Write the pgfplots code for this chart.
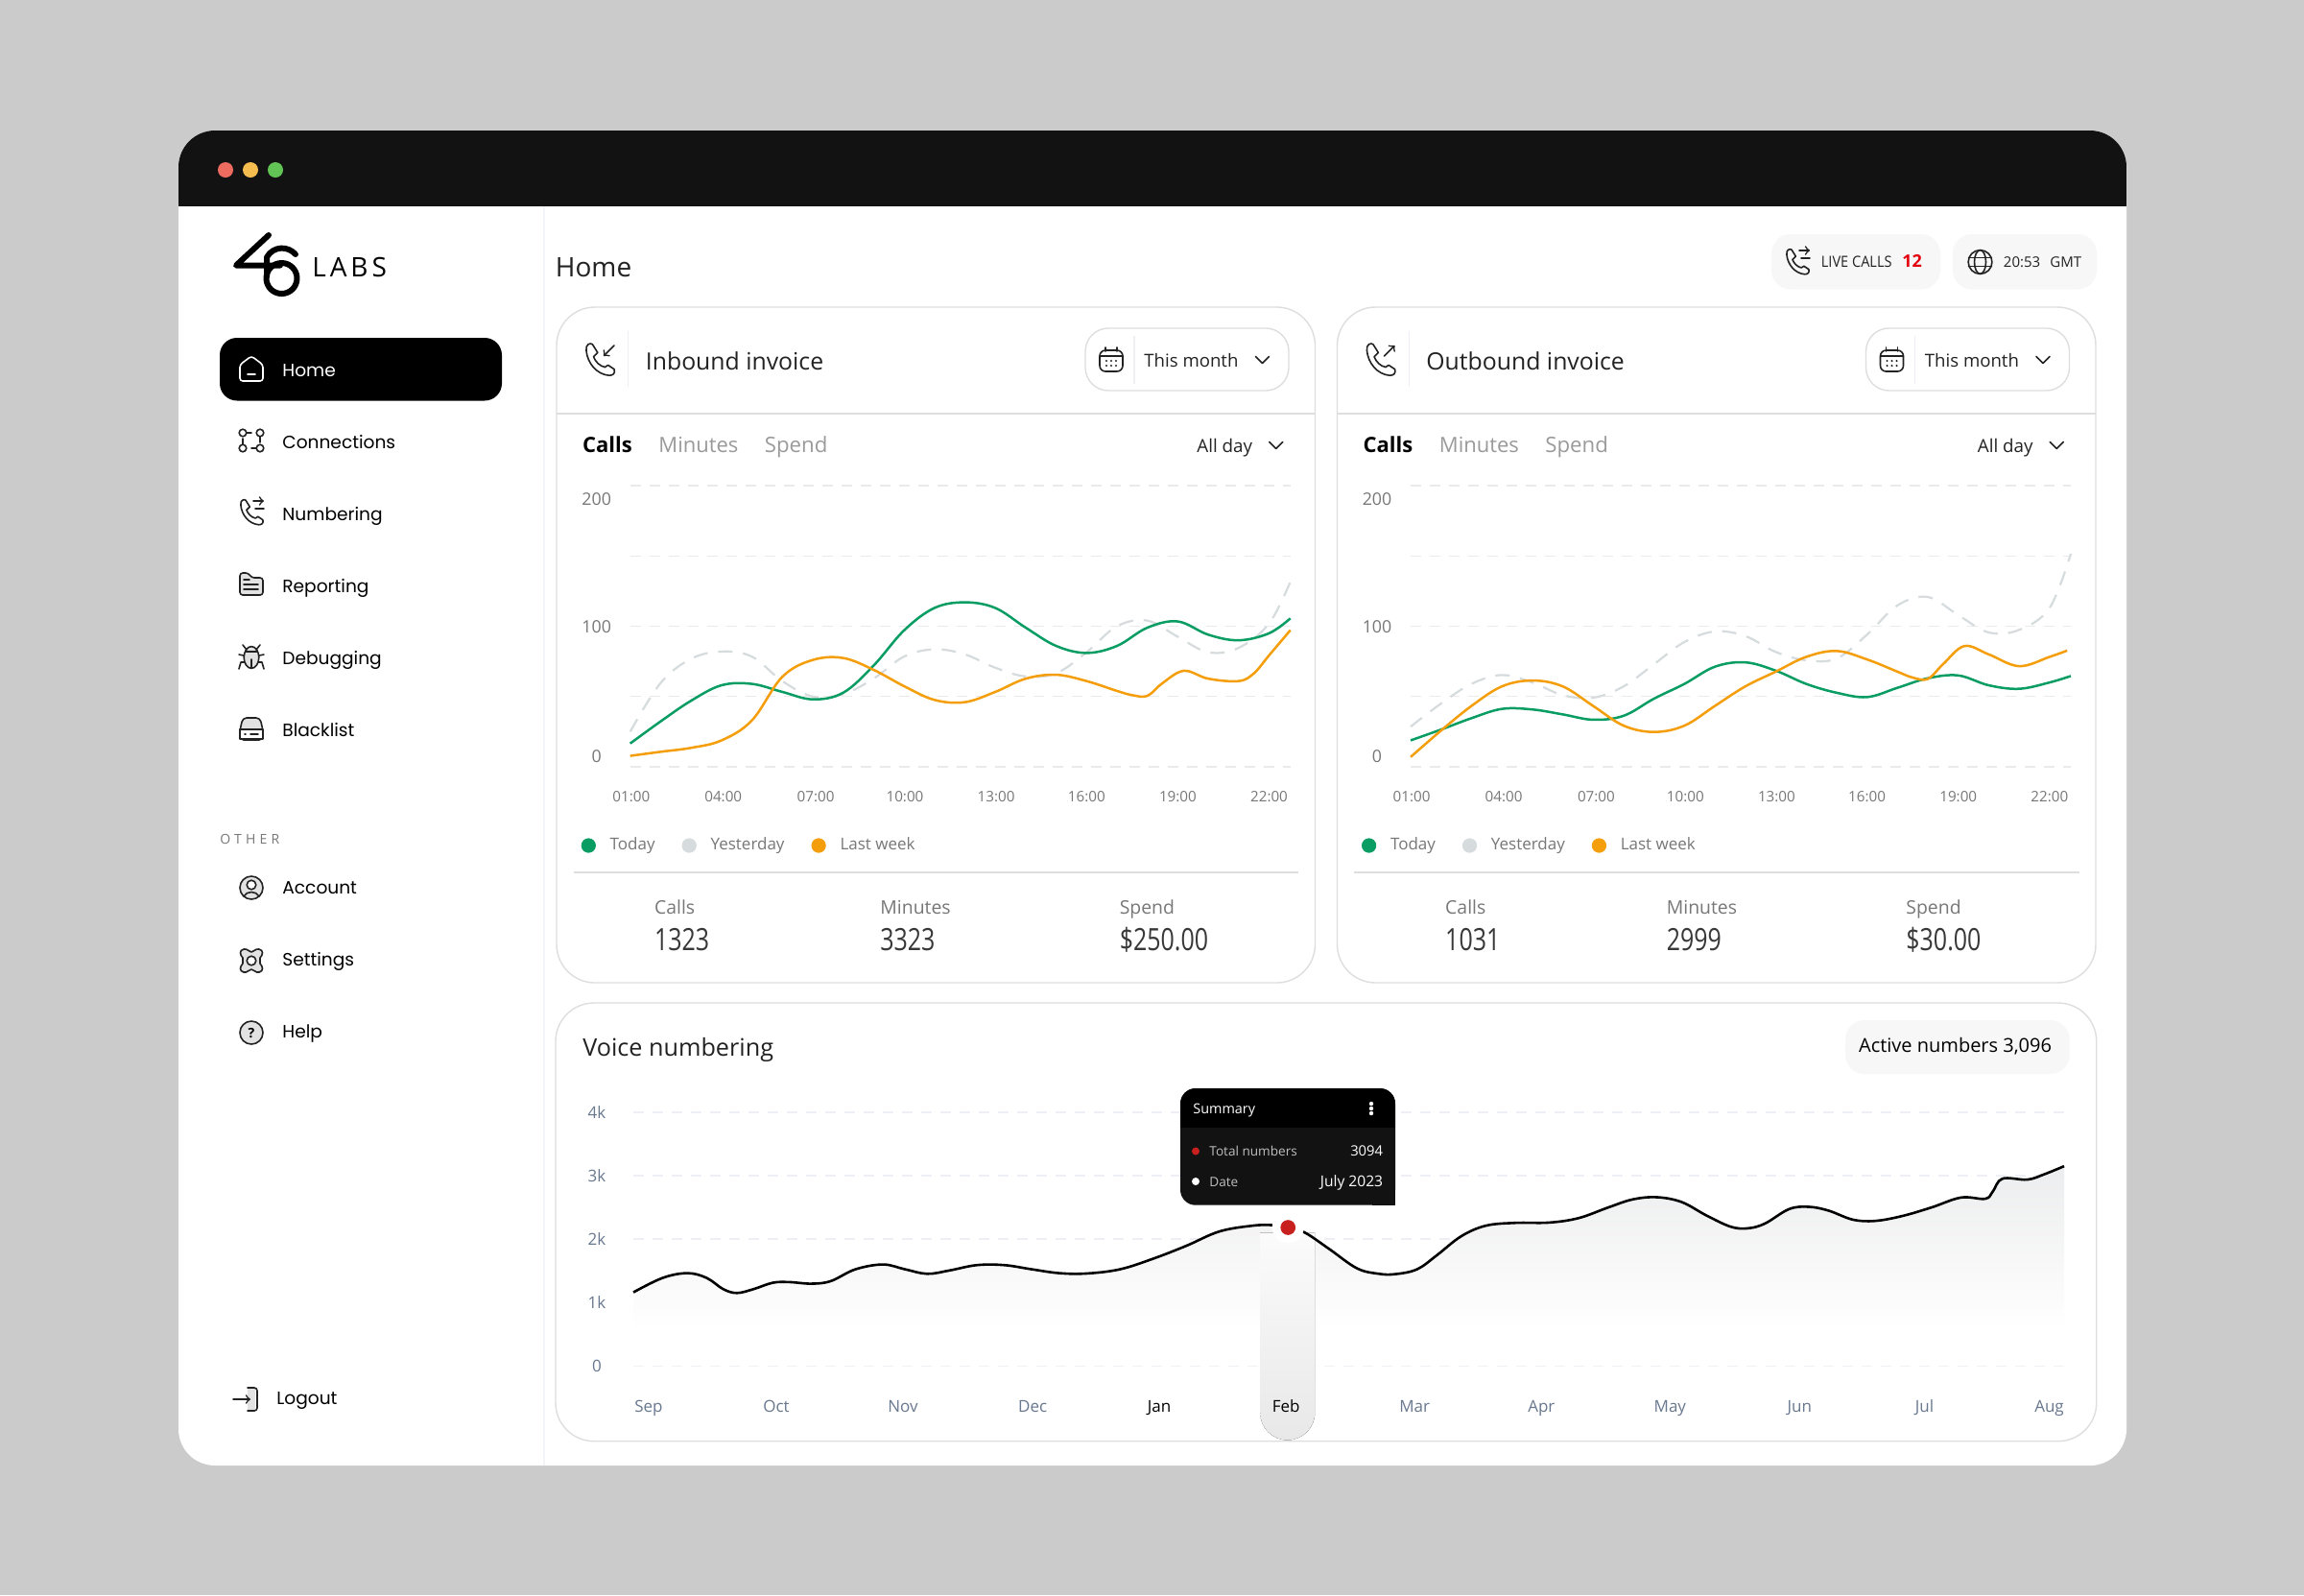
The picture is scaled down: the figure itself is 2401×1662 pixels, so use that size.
\documentclass[border=0pt]{standalone}
\usepackage{fontspec}
\usepackage{pgfplots}
\usepackage{pgfplotstable}
\pgfplotsset{compat=1.18}
\setmainfont{Open Sans}
\newfontfamily\navfont{Poppins}
\newfontfamily\labsfont[LetterSpace=14]{Open Sans}
\newfontfamily\otherfont[LetterSpace=30]{Open Sans}
\definecolor{bg}{HTML}{CBCBCB}
\definecolor{hdr}{HTML}{121212}
\definecolor{ink}{HTML}{222222}
\definecolor{mut}{HTML}{777777}
\definecolor{tab}{HTML}{9A9A9A}
\definecolor{bord}{HTML}{DEDEDE}
\definecolor{soft}{HTML}{F7F7F7}
\definecolor{gridc}{HTML}{EAEAEA}
\definecolor{gridv}{HTML}{EDEFF4}
\definecolor{cgreen}{HTML}{0A9D63}
\definecolor{cgrey}{HTML}{D6DBDD}
\definecolor{corange}{HTML}{F59E0B}
\definecolor{slate}{HTML}{68788F}
\definecolor{cred}{HTML}{C8201E}
\definecolor{ttbody}{HTML}{121212}
\definecolor{areatop}{HTML}{ECEDEE}
\definecolor{areamid}{HTML}{FAFAFA}
\definecolor{bandtop}{HTML}{FBFBFB}
\definecolor{bandbot}{HTML}{E8E8E9}
\definecolor{dred}{HTML}{EE6B60}
\definecolor{dyel}{HTML}{F5BD4F}
\definecolor{dgrn}{HTML}{61C454}
\definecolor{ifill}{HTML}{E2E2E2}
\definecolor{livered}{HTML}{E3000F}
\pgfdeclareverticalshading{areafade}{100bp}{color(0bp)=(white); color(34bp)=(white); color(45bp)=(areamid); color(75bp)=(areatop); color(100bp)=(areatop)}

\pgfplotstableread{
h v
1 16.6
2 32.3
3 47
4 58
5 59
6 53.3
7 48
8 52.7
9 72
10 97
11 113
12 117
13 113
14 99
15 86
16 81
17 86
18 99
19 103.4
20 94
21 90
22 95
22.7 105.6
}\inToday
\pgfplotstableread{
h v
1 25
2 59.6
3 76.8
4 82
5 78.4
6 61
7 50
8 51.7
9 62.7
10 78.4
11 83.6
12 80
13 70.5
14 64.3
15 66.5
16 81.5
17 100
18 104
19 92.5
20 81.5
21 84.6
22 102
22.7 131.7
}\inYest
\pgfplotstableread{
h v
1 7.8
2 10.7
3 13.5
4 18.8
5 33
6 64
7 76
8 77.4
9 69
10 57.4
11 47.6
12 46
13 53.3
14 62.7
15 65.5
16 61
17 54
17.5 51
18 50.5
18.5 59.6
19.2 68.3
20 62.7
21 61
21.5 66.5
22 79.3
22.7 97.2
}\inLast
\pgfplotstableread{
h v
1 18.8
2 26.5
3 34.6
4 41.2
5 40.8
6 37.3
7 33.5
8 36.3
9 48.5
10 59
11 71.2
12 74.3
13 68.4
14 59
15 52.7
16 49.6
17 56.2
18 63
19 65
20 58
21 55.5
22 60
22.7 64.6
}\outToday
\pgfplotstableread{
h v
1 28.6
2 45
3 59
4 65.3
5 60
6 51
7 49.2
8 57.2
9 73
10 88.8
11 96.3
12 93
13 81.7
14 75.8
15 77
16 94
17 114.8
18 120.8
19 107.9
20 95.6
21 97.4
22 113
22.7 151.5
}\outYest
\pgfplotstableread{
h v
1 7
2 25.8
3 43.3
4 57.2
5 61.4
6 57.2
7 43.3
8 29.3
9 24.8
10 29.3
11 43.3
12 57.2
13 67.7
14 78.2
15 82.4
16 76.4
17 67.7
17.5 63.5
18 62.5
18.5 73
19.2 85.9
20 80
21 71.6
22 78.2
22.58 82.7
}\outLast
\pgfplotstableread{
m v
-0.12 1158
0.11 1386
0.305 1461
0.456 1386
0.586 1209
0.694 1148
0.824 1209
0.976 1310
1.106 1320
1.278 1295
1.43 1335
1.625 1522
1.842 1598
2.014 1522
2.188 1451
2.36 1502
2.578 1588
2.794 1588
3.01 1522
3.227 1461
3.443 1456
3.703 1522
3.963 1689
4.222 1891
4.483 2119
4.742 2210
4.894 2220
5.023 2180
5.153 2104
5.348 1841
5.565 1537
5.737 1451
5.867 1446
6.037 1522
6.19 1740
6.383 2043
6.576 2210
6.807 2255
7.076 2260
7.307 2331
7.538 2498
7.73 2625
7.92 2660
8.115 2584
8.31 2372
8.5 2195
8.635 2169
8.77 2245
8.96 2473
9.115 2508
9.27 2448
9.46 2306
9.635 2286
9.846 2362
10.077 2498
10.31 2655
10.5 2635
10.56 2751
10.635 2953
10.83 2938
10.96 3019
11.12 3150
}\voice

\newcommand{\T}[6]{\node[anchor=#3,inner sep=0pt,text=#5,font=\fontsize{#4}{#4}\selectfont] at (#1,#2) {#6};}
\newcommand{\N}[4]{\node[anchor=mid west,inner sep=0pt,text=#4,font=\navfont\fontsize{9.3}{9.3}\selectfont] at (#1,#2) {#3};}
\newcommand{\ic}[3]{\begin{scope}[shift={(#1,#2)},line width=.8pt,draw=ink,line cap=round,line join=round]#3\end{scope}}
\newcommand{\handset}{%
  \draw (-13,-9) .. controls (-14,-15) and (-9,-17) .. (-7,-15) -- (-2,-7) -- (-6,-3)
    .. controls (-4,2) and (0,6) .. (5,7) -- (8,5) -- (14,9) .. controls (15,13) and (13,15) .. (9,15)
    .. controls (-3,14) and (-12,3) .. cycle;}
\newcommand{\chev}[2]{\draw[line width=.8pt,draw=ink,line cap=round,line join=round] (#1-7,#2-3.5) -- (#1,#2+3.5) -- (#1+7,#2-3.5);}
\newcommand{\calicon}[2]{\ic{#1}{#2}{%
  \draw[rounded corners=3pt] (-12,-10) rectangle (12,12);
  \draw (-12,-4) -- (12,-4); \draw (-6,-13) -- (-6,-9); \draw (6,-13) -- (6,-9);
  \foreach \a in {-5,0,5}{\foreach \b in {1,6}{\fill[ink] (\a,\b) circle (.6pt);}}}}

\pgfplotsset{
  cardaxis/.style={
    scale only axis, width=344pt, height=146.5pt,
    xmin=1, xmax=22.7, ymin=0, ymax=200,
    axis line style={draw=none}, major tick length=0pt, clip=false,
    xtick={1.035,4.06,7.1,10.03,13.03,16,19,22},
    xticklabels={01:00,04:00,07:00,10:00,13:00,16:00,19:00,22:00},
    xticklabel style={anchor=center,yshift=-15.3pt,font=\fontsize{7.6}{9}\selectfont,text=mut},
    ytick={0,50,100,150,200}, yticklabels={},
    ymajorgrids, grid style={draw=gridc,line width=.6pt,dash pattern=on 5.5pt off 4.5pt},
    extra y ticks={7.2,99.3,190.5},
    extra y tick labels={0,100,200},
    extra y tick style={grid=none,major tick length=0pt,
      yticklabel style={anchor=center,xshift=-17.5pt,font=\fontsize{8.9}{10}\selectfont,text=mut}},
    legend columns=-1,
    legend style={at={(rel axis cs:0,0)},anchor=west,xshift=-25.5pt,yshift=-41pt,draw=none,fill=none,
      inner sep=0pt,outer sep=0pt,font=\fontsize{8.5}{10}\selectfont,text=mut,
      cells={anchor=west},
      /tikz/every even column/.append style={column sep=12pt}},
    legend image code/.code={\fill[##1] (0pt,0pt) circle (3.6pt); \path (0pt,0pt) (9pt,0pt);},
  },
  sline/.style={smooth,tension=.6,line width=1.25pt,no markers,forget plot},
}

\newcommand{\cardui}[1]{% #1 = x offset
  \begin{scope}[shift={(#1,0)}]
  \draw[bord,line width=.7pt,rounded corners=20pt] (580,320) rectangle (1370.5,1024);
  \draw[bord,line width=.8pt] (580,431) -- (1370.5,431);
  \draw[gridv,line width=.6pt] (654.7,345) -- (654.7,403);
  \draw[bord,line width=.7pt,rounded corners=12pt] (1131,342) rectangle (1343,407);
  \calicon{1158}{375}
  \draw[gridv,line width=.6pt] (1182,350) -- (1182,400);
  \T{1192}{377}{mid west}{9.3}{ink}{This month}
  \chev{1315.4}{375}
  \T{606.7}{466}{mid west}{11}{black}{\textbf{Calls}}
  \T{686}{466}{mid west}{11}{tab}{Minutes}
  \T{796.5}{466}{mid west}{11.1}{tab}{Spend}
  \T{1247}{466.5}{mid west}{9.4}{ink}{All day}
  \chev{1329.7}{464}
  \draw[bord,line width=.7pt] (597.5,909) -- (1353,909);
  \end{scope}}
\newcommand{\stat}[3]{% x, label, value
  \T{#1}{947.5}{mid west}{9.7}{mut}{#2}
  \node[anchor=base west,inner sep=0pt,text=ink!90,font=\fontsize{16}{16}\selectfont] at (#1,990.5) {\scalebox{.78}[1]{#3}};}

\begin{document}
\begin{tikzpicture}[x=0.5pt,y=-0.5pt]
\fill[bg] (0,0) rectangle (2401,1662);
% window
\fill[white,rounded corners=19pt] (186,136) rectangle (2216,1527);
\begin{scope}
  \clip[rounded corners=19pt] (186,136) rectangle (2216,1527);
  \fill[hdr] (186,136) rectangle (2216,215);
\end{scope}
\fill[dred] (235,177) circle (4pt);
\fill[dyel] (261,177) circle (4pt);
\fill[dgrn] (287,177) circle (4pt);
\draw[gridv!70!white,line width=.6pt] (567,215) -- (567,1527);
% logo
\begin{scope}[line width=3pt,line cap=round,line join=round,draw=black]
  \draw (280,245) -- (246,276.5) -- (292,276.5);
  \draw (293.5,290) circle (8pt);
  \draw (308,265) .. controls (300,256) and (285,256) .. (278,268) -- (278,288);
\end{scope}
\node[anchor=mid west,inner sep=0pt,font=\labsfont\fontsize{14}{14}\selectfont] at (325,283) {LABS};
% sidebar
\fill[black,rounded corners=9pt] (229,352) rectangle (523,417.5);
\ic{262}{384}{\draw[white,rounded corners=1.5pt] (-12,-4) -- (0,-13) -- (12,-4) -- (12,13) -- (-12,13) -- cycle; \draw[white] (-4,6) -- (4,6);}
\N{294}{387}{Home}{white}
\ic{262}{459}{\draw (-9,-8) circle (1.9pt); \draw (9,-8) circle (1.9pt); \draw (-9,8) circle (1.9pt); \draw (9,8) circle (1.9pt);
  \draw (-5,-8) -- (0,-8); \draw (9,-4) -- (9,2); \draw (-9,4) -- (-9,-2); \draw (5,8) -- (0,8);}
\N{294}{462}{Connections}{black}
\ic{262}{534}{\begin{scope}[scale=.85]\handset\end{scope}\draw[->] (2,-12) -- (13,-12); \draw (4,-4) -- (13,-4);}
\N{294}{537}{Numbering}{black}
\ic{262}{609}{\draw[fill=ifill,rounded corners=1.5pt] (-12,-12) -- (-3,-12) -- (0,-7) -- (12,-7) -- (12,11) -- (-12,11) -- cycle;
  \draw (-8,-5) -- (-2,-5); \draw (-8,0) -- (7,0); \draw (-8,5) -- (7,5);}
\N{294}{612}{Reporting}{black}
\ic{262}{684}{\draw[fill=ifill] (0,1) ellipse (3.9pt and 5.7pt); \draw (-9,-12) -- (-5,-7); \draw (9,-12) -- (5,-7);
  \draw (-13,13) -- (-11,6) -- (-7,6); \draw (13,13) -- (11,6) -- (7,6); \draw (-13,-2) -- (-8,-1); \draw (13,-2) -- (8,-1); \draw (0,3) -- (0,12); \draw (-6,-5) -- (6,-5);}
\N{294}{687}{Debugging}{black}
\ic{262}{759}{\draw[fill=ifill,rounded corners=2pt] (-12,2) -- (-9,-11) -- (9,-11) -- (12,2) -- (12,12) -- (-12,12) -- cycle;
  \draw[fill=white] (-12,1) -- (12,1) -- (12,11) -- (-12,11) -- cycle; \draw (-7,6) -- (-6,6); \draw (-1,6) -- (7,6);}
\N{294}{762}{Blacklist}{black}
\node[anchor=mid west,inner sep=0pt,text=mut,font=\otherfont\fontsize{7}{7}\selectfont] at (229,874) {OTHER};
\ic{262}{925}{\draw[fill=ifill] (0,0) circle (6pt); \draw[fill=white] (0,-3) circle (2.4pt); \draw (-8,9) .. controls (-5,3) and (5,3) .. (8,9);}
\N{294}{926.5}{Account}{black}
\ic{262}{1001}{\draw[fill=ifill] (-8,-12) .. controls (-4,-13) and (-3,-9) .. (0,-9) .. controls (3,-9) and (4,-13) .. (8,-12)
  .. controls (13,-11) and (12,-6) .. (9,-3) .. controls (9,0) and (9,1) .. (9,3) .. controls (12,6) and (13,11) .. (8,12)
  .. controls (4,13) and (3,9) .. (0,9) .. controls (-3,9) and (-4,13) .. (-8,12)
  .. controls (-13,11) and (-12,6) .. (-9,3) .. controls (-9,1) and (-9,0) .. (-9,-3) .. controls (-12,-6) and (-13,-11) .. (-8,-12) -- cycle;
  \draw[fill=white] (0,0) circle (2.4pt);}
\N{294}{1001.5}{Settings}{black}
\ic{262}{1076}{\draw[fill=ifill] (0,0) circle (6pt); \node[inner sep=0pt,text=black,font=\bfseries\fontsize{7}{7}\selectfont] at (0,0) {?};}
\N{294}{1076}{Help}{black}
\ic{256}{1458}{\fill[ifill] (2,-12) rectangle (10,12); \draw[rounded corners=1.5pt] (2,-12) -- (12,-12) -- (12,12) -- (2,12); \draw[->] (-13,0) -- (5,0);}
\N{288}{1458}{Logout}{black}
% top
\T{578.5}{283}{mid west}{14}{ink}{Home}
\fill[soft,rounded corners=10pt] (1846,244) rectangle (2022,301.5);
\fill[soft,rounded corners=10pt] (2035,244) rectangle (2185,301.5);
\ic{1873}{273}{\begin{scope}[scale=.85]\handset\end{scope}\draw[->] (2,-12) -- (13,-12); \draw (4,-4) -- (13,-4);}
\node[anchor=mid west,inner sep=0pt,text=ink,font=\fontsize{8}{8}\selectfont] at (1897.5,273) {\scalebox{.91}[1]{LIVE CALLS}};
\T{1982}{273}{mid west}{9}{livered}{\textbf{12}}
\ic{2063.5}{273}{\draw (0,0) circle (6.2pt); \draw (0,0) ellipse (3pt and 6.2pt); \draw (-12,-4.5) -- (12,-4.5); \draw (-12,4.5) -- (12,4.5);}
\T{2087.5}{273}{mid west}{7.5}{ink}{20:53}
\T{2136}{273}{mid west}{7.5}{ink}{GMT}
% cards
\cardui{0}
\cardui{813.5}
\ic{625}{375}{\begin{scope}[scale=1.08]\handset\end{scope}\draw[->] (15,-15) -- (4,-4);}
\ic{1438.5}{375}{\begin{scope}[scale=1.08]\handset\end{scope}\draw[->] (4,-4) -- (15,-15);}
\T{672.5}{380}{mid west}{12.4}{ink}{Inbound invoice}
\T{1486}{380}{mid west}{12.4}{ink}{Outbound invoice}
\stat{681.7}{Calls}{1323}
\stat{917}{Minutes}{3323}
\stat{1166.4}{Spend}{\$250.00}
\stat{1505.8}{Calls}{1031}
\stat{1736.4}{Minutes}{2999}
\stat{1986}{Spend}{\$30.00}

% inbound
\begin{axis}[cardaxis,at={(328.35pt,-399.5pt)},anchor=south west]
\addlegendimage{color=cgreen}\addlegendentry{Today}
\addlegendimage{color=cgrey}\addlegendentry{Yesterday}
\addlegendimage{color=corange}\addlegendentry{Last week}
\addplot[sline,color=cgrey,line width=1.1pt,dash pattern=on 7.5pt off 5.5pt] table[x=h,y=v] {\inYest};
\addplot[sline,color=cgreen] table[x=h,y=v] {\inToday};
\addplot[sline,color=corange] table[x=h,y=v] {\inLast};
\end{axis}
% outbound
\begin{axis}[cardaxis,at={(735pt,-399.5pt)},anchor=south west]
\addlegendimage{color=cgreen}\addlegendentry{Today}
\addlegendimage{color=cgrey}\addlegendentry{Yesterday}
\addlegendimage{color=corange}\addlegendentry{Last week}
\addplot[sline,color=cgrey,line width=1.1pt,dash pattern=on 7.5pt off 5.5pt] table[x=h,y=v] {\outYest};
\addplot[sline,color=cgreen] table[x=h,y=v] {\outToday};
\addplot[sline,color=corange] table[x=h,y=v] {\outLast};
\end{axis}
% voice card
\draw[bord,line width=.7pt,rounded corners=20pt] (579,1045) rectangle (2184.7,1501.7);
\T{607}{1095}{mid west}{12.6}{ink}{Voice numbering}
\fill[soft,rounded corners=10pt] (1923,1063) rectangle (2156.6,1119);
\T{1936.7}{1091}{mid west}{10}{black}{Active numbers 3,096}
\begin{axis}[scale only axis,width=745.5pt,height=132pt,at={(330pt,-711.5pt)},anchor=south west,
  xmin=-0.12,xmax=11.12,ymin=0,ymax=4000,clip=false,
  axis line style={draw=none},major tick length=0pt,
  ytick={0,1000,2000,3000,4000},yticklabels={0,1k,2k,3k,4k},
  ymajorgrids,grid style={draw=gridv,line width=.6pt,dash pattern=on 5.5pt off 4.5pt},
  yticklabel style={anchor=center,xshift=-19pt,font=\fontsize{8.5}{10}\selectfont,text=slate},
  xtick={0,1.003,1.998,3.017,4.012,5.008,6.018,7.014,8.024,9.042,10.023,11.003},
  xticklabels={Sep,Oct,Nov,Dec,{\textcolor{black}{Jan}},{},Mar,Apr,May,Jun,Jul,Aug},
  xticklabel style={anchor=base,yshift=-24pt,font=\fontsize{8.5}{10}\selectfont,text=slate},
]
\addplot[draw=none,shade,shading=areafade,smooth,tension=.6,forget plot] table[x=m,y=v] {\voice} \closedcycle;
\fill[top color=bandtop,bottom color=bandbot] (axis cs:4.804,2100) -- (axis cs:5.234,2100) -- (axis cs:5.234,-742) arc[start angle=0,end angle=-180,radius=14.25pt] -- cycle;
\node[anchor=base,inner sep=0pt,text=black,font=\fontsize{8.5}{10}\selectfont] at (axis cs:5.008,-727) {Feb};
\addplot[smooth,tension=.6,line width=1.3pt,color=black,no markers,forget plot] table[x=m,y=v] {\voice};
\addplot[only marks,mark=*,mark size=8pt,color=white,forget plot] coordinates {(5.023,2182)};
\addplot[only marks,mark=*,mark size=3.7pt,color=cred,forget plot] coordinates {(5.023,2182)};
\end{axis}
% tooltip
\fill[ttbody,rounded corners=8pt] (1230,1134) rectangle (1454,1255.7);
\fill[ttbody] (1430,1230) rectangle (1454,1255.7);
\begin{scope}
  \clip[rounded corners=8pt] (1230,1134) rectangle (1454,1255.7);
  \fill[black] (1230,1134) rectangle (1454,1175);
\end{scope}
\T{1243}{1155}{mid west}{7.2}{white}{Summary}
\foreach \yy in {1150,1155,1160}{\fill[white] (1429,\yy) circle (1.1pt);}
\fill[cred] (1246,1199.5) circle (2pt);
\T{1260}{1199.5}{mid west}{6.8}{black!25}{Total numbers}
\T{1441.5}{1199.5}{mid east}{7.4}{white}{3094}
\fill[white] (1246,1231) circle (2pt);
\T{1260}{1231}{mid west}{6.8}{black!25}{Date}
\T{1441.5}{1231}{mid east}{7.8}{white}{July 2023}
\end{tikzpicture}
\end{document}
